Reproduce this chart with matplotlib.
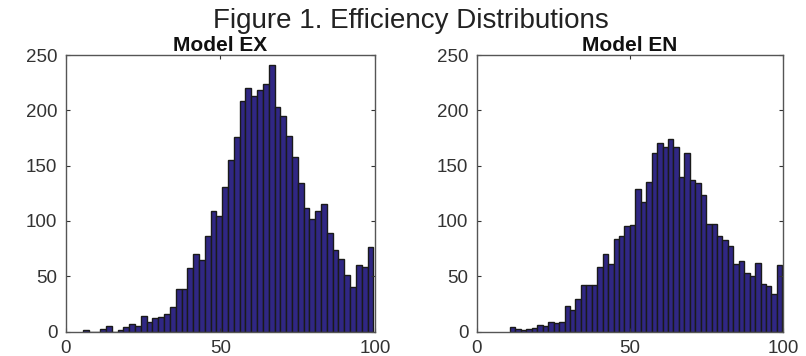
import numpy as np
import matplotlib
matplotlib.use("Agg")
import matplotlib.pyplot as plt

plt.rcParams['font.family'] = ['Liberation Sans', 'DejaVu Sans']

# ---- data (histogram counts) ----
ex_range = (5.5, 99.4)
ex_counts = [1, 0, 0, 2, 5, 0, 1, 4, 7, 5,
             14, 9, 12, 13, 16, 22, 38, 38, 57, 70,
             65, 86, 109, 104, 131, 155, 176, 208, 220, 213,
             218, 224, 241, 203, 195, 177, 158, 134, 112, 102,
             109, 115, 89, 74, 66, 51, 40, 60, 58, 76]

en_range = (10.9, 99.8)
en_counts = [4, 2, 1, 2, 3, 6, 5, 9, 8, 9,
             23, 19, 29, 42, 42, 42, 58, 70, 61, 84,
             86, 95, 96, 129, 117, 135, 161, 170, 167, 174,
             167, 140, 161, 137, 134, 123, 97, 97, 86, 83,
             77, 61, 64, 53, 50, 62, 43, 41, 34, 60]

titles = ["Model EX", "Model EN"]
suptitle = "Figure 1. Efficiency Distributions"
xticks = [0, 50, 100]
yticks = [0, 50, 100, 150, 200, 250]

fig = plt.figure(figsize=(8.06, 3.56), dpi=100)
fig.text(0.51, 0.978, suptitle, ha='center', va='top', fontsize=20, color='#222222')

positions = [[0.0815, 0.0688, 0.384, 0.7767], [0.5914, 0.0688, 0.380, 0.7767]]
bar_color = '#302784'

for pos, rng, counts, title in zip(positions, [ex_range, en_range],
                                   [ex_counts, en_counts], titles):
    ax = fig.add_axes(pos)
    edges = np.linspace(rng[0], rng[1], len(counts) + 1)
    ax.bar(edges[:-1], counts, width=np.diff(edges), align='edge',
           color=bar_color, edgecolor='#1a1a1a', linewidth=1.0)
    ax.set_xlim(0, 100)
    ax.set_ylim(0, 250)
    ax.set_xticks(xticks)
    ax.set_yticks(yticks)
    ax.tick_params(direction='in', length=3, width=0.8, top=True, right=True,
                   labelsize=13.5, colors='#333333', pad=6)
    for s in ax.spines.values():
        s.set_color('#555555')
        s.set_linewidth(1.0)
    ax.set_title(title, fontsize=15, fontweight='bold', color='#111111', pad=3)

fig.savefig('out.png', dpi=100)
